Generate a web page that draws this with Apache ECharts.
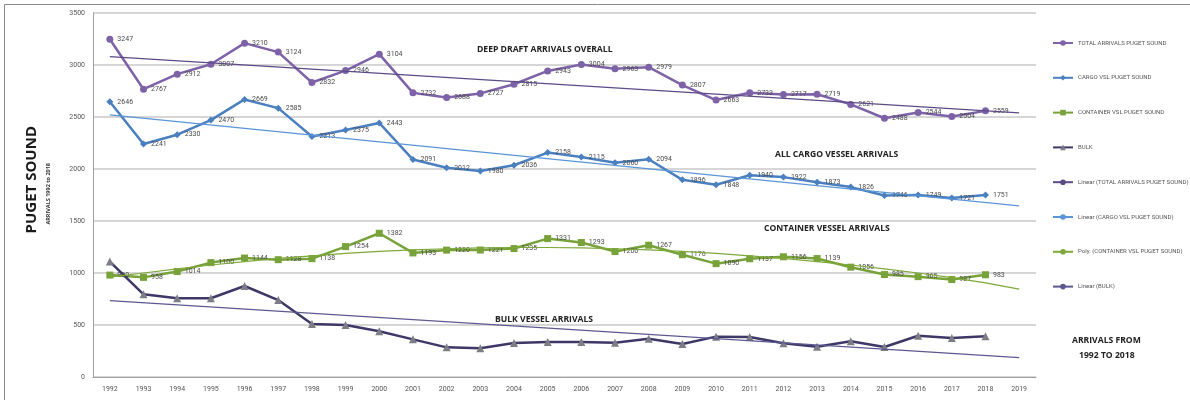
<!DOCTYPE html>
<html>
<head>
<meta charset="utf-8">
<script src="https://cdn.jsdelivr.net/npm/echarts@6/dist/echarts.min.js"></script>
<style>
	html, body { margin: 0; padding: 0; background: #ffffff; }
	#chart { width: 1190px; height: 400px; }
</style>
</head>
<body>
<div id="chart"></div>
<script>
	var years = ['1992','1993','1994','1995','1996','1997','1998','1999','2000','2001','2002','2003','2004','2005',
		'2006','2007','2008','2009','2010','2011','2012','2013','2014','2015','2016','2017','2018','2019'];

	var totalArrivals = [3247, 2767, 2912, 3007, 3210, 3124, 2832, 2946, 3104, 2732, 2688, 2727, 2815, 2943,
		3004, 2963, 2979, 2807, 2663, 2733, 2717, 2719, 2621, 2488, 2544, 2504, 2559, null];

	var cargoArrivals = [2646, 2241, 2330, 2470, 2669, 2585, 2313, 2375, 2443, 2091, 2012, 1980, 2036, 2158,
		2115, 2060, 2094, 1896, 1848, 1940, 1922, 1873, 1826, 1746, 1749, 1721, 1751, null];

	var containerArrivals = [980, 958, 1014, 1100, 1144, 1128, 1138, 1254, 1382, 1193, 1220, 1221, 1235, 1331,
		1293, 1206, 1267, 1176, 1090, 1137, 1156, 1139, 1056, 985, 965, 937, 983, null];

	var bulkArrivals = [1110, 795, 757, 757, 875, 740, 510, 500, 440, 362, 285, 276, 327, 336,
		336, 330, 368, 317, 388, 385, 324, 291, 343, 288, 397, 375, 391, null];

	// trend lines (start / end of the linear ones)
	var totalTrend = [3080, 2540];
	var cargoTrend = [2520, 1645];
	var bulkTrend = [734, 186];
	var containerPoly = [960, 1000, 1040, 1077, 1110, 1140, 1165, 1188, 1207, 1222, 1233, 1241, 1245, 1245,
		1241, 1233, 1222, 1207, 1188, 1165, 1140, 1110, 1077, 1040, 1000, 955, 905, 845];

	var seriesNames = ['TOTAL ARRIVALS PUGET SOUND', 'CARGO VSL PUGET SOUND', 'CONTAINER VSL PUGET SOUND', 'BULK',
		'Linear (TOTAL ARRIVALS PUGET SOUND)', 'Linear (CARGO VSL PUGET SOUND)', 'Poly. (CONTAINER VSL PUGET SOUND)', 'Linear (BULK)'];

	var FONT = '"Open Sans", "Liberation Sans", sans-serif';
	var SMALL_FONT = 'Roboto, "Liberation Sans", sans-serif';

	function endPoints(pair){
		var d = [];
		for(var i = 0; i < years.length; i++){
			d.push(null);
		}
		d[0] = pair[0];
		d[years.length - 1] = pair[1];
		return d;
	}

	function dataSeries(name, data, color, symbol, size, showLabel){
		return {
			name: name,
			type: 'line',
			data: data,
			symbol: symbol,
			symbolSize: size,
			z: 3,
			lineStyle: { color: color, width: 2.5 },
			itemStyle: { color: color },
			label: {
				show: showLabel,
				position: 'right',
				distance: 4,
				fontSize: 7,
				fontFamily: SMALL_FONT,
				color: '#4a4a4a'
			}
		};
	}

	function trendSeries(name, data, color){
		return {
			name: name,
			type: 'line',
			data: data,
			connectNulls: true,
			symbol: 'none',
			z: 4,
			lineStyle: { color: color, width: 1.2 },
			itemStyle: { color: color }
		};
	}

	function textItem(text, x, y, size){
		return {
			type: 'text',
			left: x,
			top: y,
			style: {
				text: text,
				fontSize: size,
				fontWeight: 'bold',
				fontFamily: FONT,
				fill: '#222222'
			}
		};
	}

	var option = {
		backgroundColor: '#ffffff',
		animation: false,

		grid: {
			left: 93,
			right: 154,
			top: 13,
			bottom: 23
		},

		legend: {
			orient: 'vertical',
			left: 1047,
			top: 35,
			itemGap: 28.8,
			itemWidth: 20,
			itemHeight: 7,
			textStyle: { fontSize: 6, fontFamily: SMALL_FONT, color: '#555555' },
			data: seriesNames
		},

		xAxis: {
			type: 'category',
			data: years,
			boundaryGap: true,
			axisLine: { lineStyle: { color: '#a0a0a0' } },
			axisTick: { show: false },
			axisLabel: { fontSize: 7, fontFamily: SMALL_FONT, color: '#555555', margin: 9 }
		},

		yAxis: {
			type: 'value',
			min: 0,
			max: 3500,
			interval: 500,
			axisLine: { show: true, lineStyle: { color: '#a0a0a0' } },
			axisTick: { show: false },
			axisLabel: {
				fontSize: 7, fontFamily: SMALL_FONT, color: '#555555', margin: 8,
				formatter: function(v){ return String(v); }
			},
			splitLine: { lineStyle: { color: '#c8c8c8', width: 1.5 } }
		},

		graphic: [
			{
				type: 'rect',
				left: 2, top: 2,
				shape: { width: 1186, height: 396 },
				style: { fill: 'none', stroke: '#8a8a8a', lineWidth: 1 }
			},
			{
				type: 'text',
				left: 24, top: 126,
				rotation: Math.PI / 2,
				style: {
					text: 'PUGET SOUND', fontSize: 15, fontWeight: 'bold',
					fontFamily: FONT, fill: '#1a1a1a'
				}
			},
			{
				type: 'text',
				left: 45, top: 163,
				rotation: Math.PI / 2,
				style: {
					text: 'ARRIVALS 1992 to 2018', fontSize: 5.5, fontWeight: 'bold',
					fontFamily: FONT, fill: '#333333'
				}
			},
			textItem('DEEP DRAFT ARRIVALS OVERALL', 477, 45, 8.6),
			textItem('ALL CARGO VESSEL ARRIVALS', 775, 150, 8.6),
			textItem('CONTAINER VESSEL ARRIVALS', 764, 224, 8.6),
			textItem('BULK VESSEL ARRIVALS', 495, 315, 8.6),
			textItem('ARRIVALS FROM', 1072, 336, 8.6),
			textItem('1992 TO 2018', 1079, 351, 8.6)
		],

		series: [
			dataSeries(seriesNames[0], totalArrivals, '#7e62a8', 'circle', 7, true),
			dataSeries(seriesNames[1], cargoArrivals, '#4a7fc0', 'diamond', 7, true),
			dataSeries(seriesNames[2], containerArrivals, '#78a23a', 'rect', 7, true),
			dataSeries(seriesNames[3], bulkArrivals, '#3e3868', 'triangle', 8, false),
			trendSeries(seriesNames[4], endPoints(totalTrend), '#5b4a86'),
			trendSeries(seriesNames[5], endPoints(cargoTrend), '#5b95d6'),
			trendSeries(seriesNames[6], containerPoly, '#7ea83a'),
			trendSeries(seriesNames[7], endPoints(bulkTrend), '#5c5890')
		]
	};

	// bulk markers are grey triangles in the original
	option.series[3].itemStyle = { color: '#7d7d85' };

	var chart = echarts.init(document.getElementById('chart'));
	chart.setOption(option);
</script>
</body>
</html>
